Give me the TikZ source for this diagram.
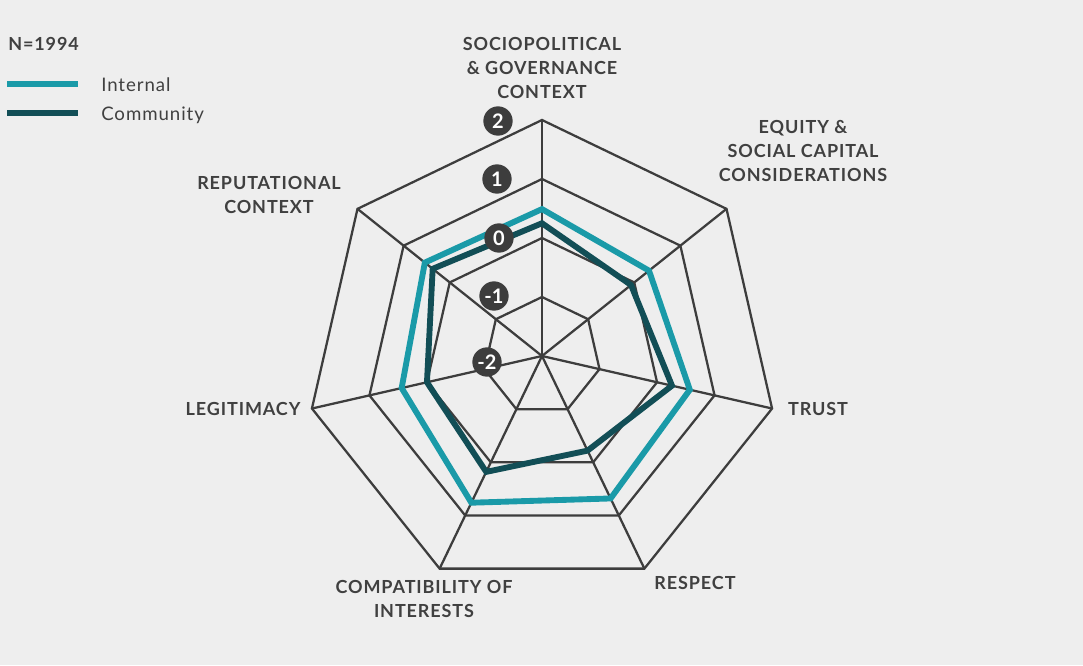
\documentclass[tikz,border=0pt]{standalone}
\usepackage{fontspec}
\setmainfont{Lato}[LetterSpace=5]
\newfontfamily\badgefont{Lato}
\usetikzlibrary{positioning}
\definecolor{bgcol}{HTML}{EEEEEE}
\definecolor{gridcol}{HTML}{3D3D3D}
\definecolor{internalcol}{HTML}{1A9AA8}
\definecolor{communitycol}{HTML}{124E56}
\definecolor{txtcol}{HTML}{404040}
\newcommand{\ringstep}{59}
\newcommand{\nspokes}{7}

\begin{document}
\begin{tikzpicture}[x=0.75pt, y=0.75pt]
  \tikzset{gridline/.style={draw=gridcol, line width=1.7pt}}
  \tikzset{internalline/.style={draw=internalcol, line width=4.4pt}}
  \tikzset{communityline/.style={draw=communitycol, line width=4.4pt}}
  \tikzset{axislabel/.style={text=txtcol, align=center, font=\bfseries\fontsize{13.5}{18}\selectfont}}
  \tikzset{badge/.style={circle, fill=gridcol, text=white, minimum size=22pt, inner sep=0pt, font=\badgefont\bfseries\fontsize{15}{15}\selectfont}}
  \tikzset{legendtext/.style={text=txtcol, anchor=west, inner sep=0pt, font=\fontsize{14}{16}\selectfont}}
  \fill[bgcol] (0,0) rectangle (1083,-665);
  \useasboundingbox (0,0) rectangle (1083,-665);

  % legend
  \node[text=txtcol, anchor=west, inner sep=0pt, font=\bfseries\fontsize{13.5}{16}\selectfont] (sample) at (8,-44) {N=1994};
  \coordinate (intA) at (7,-84);
  \coordinate (intB) at (78,-84);
  \coordinate (comA) at (7,-113);
  \coordinate (comB) at (78,-113);
  \draw[internalline, line width=4.6pt] (intA) -- (intB);
  \draw[communityline, line width=4.6pt] (comA) -- (comB);
  \node[legendtext] (internal) at (101,-85) {Internal};
  \node[legendtext] (community) at (101,-115) {Community};

  \begin{scope}[shift={(542,-356)}]
    % rings and spokes
    \foreach \lvl in {1,...,4}
      \draw[gridline] (90:{\lvl*\ringstep})
        \foreach \k in {1,...,6} { -- ({90-\k*360/\nspokes}:{\lvl*\ringstep}) } -- cycle;
    \foreach \k in {0,...,6}
      \draw[gridline] (0,0) -- ({90-\k*360/\nspokes}:{4*\ringstep});

    % data
    \foreach \v [count=\k from 0] in {0.49,0.32,0.57,0.68,0.76,0.44,0.54}
      \coordinate (int\k) at ({90-\k*360/\nspokes}:{(\v+2)*\ringstep});
    \foreach \v [count=\k from 0] in {0.25,-0.07,0.26,-0.22,0.18,0.00,0.37}
      \coordinate (com\k) at ({90-\k*360/\nspokes}:{(\v+2)*\ringstep});
    \draw[internalline] (int0) -- (int1) -- (int2) -- (int3) -- (int4) -- (int5) -- (int6) -- cycle;
    \draw[communityline] (com0) -- (com1) -- (com2) -- (com3) -- (com4) -- (com5) -- (com6) -- cycle;
  \end{scope}

  % scale badges
  \node[badge] (two) at (498,-121) {2};
  \node[badge] (one) at (497,-179) {1};
  \node[badge] (zero) at (499,-238) {0};
  \node[badge] (minusone) at (494,-296) {-1};
  \node[badge] (minustwo) at (487,-362) {-2};

  % axis labels
  \node[axislabel] (sociopolitical) at (542,-68) {SOCIOPOLITICAL\\\& GOVERNANCE\\CONTEXT};
  \node[axislabel] (equity) at (803,-151) {EQUITY \&\\SOCIAL CAPITAL\\CONSIDERATIONS};
  \node[axislabel] (trust) at (818,-409) {TRUST};
  \node[axislabel] (respect) at (695,-583) {RESPECT};
  \node[axislabel] (compatibility) at (424,-599) {COMPATIBILITY OF\\INTERESTS};
  \node[axislabel] (legitimacy) at (243,-409) {LEGITIMACY};
  \node[axislabel] (reputational) at (269,-195) {REPUTATIONAL\\CONTEXT};
\end{tikzpicture}
\end{document}
